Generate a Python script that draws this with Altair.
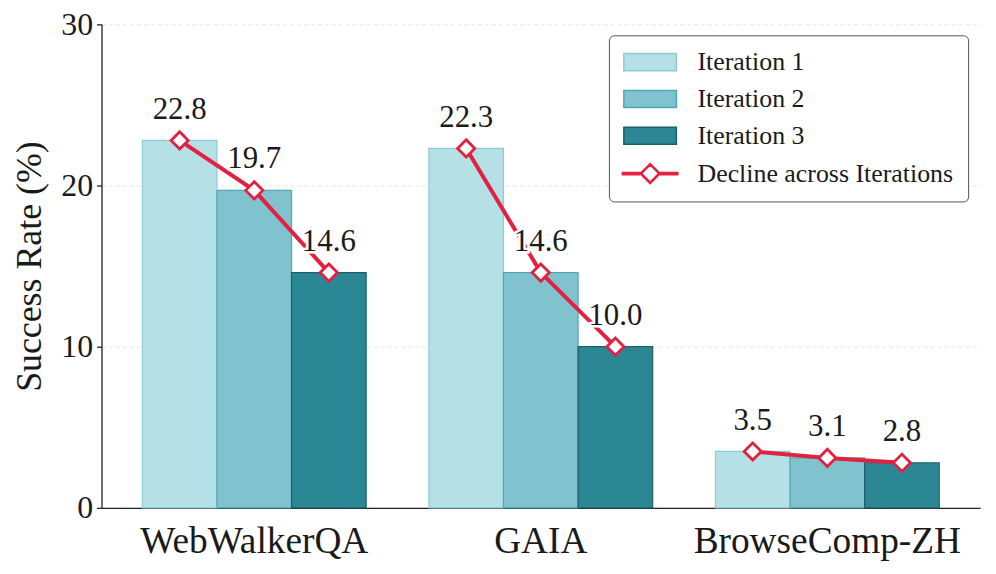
import altair as alt
import pandas as pd

groups = ["WebWalkerQA", "GAIA", "BrowseComp-ZH"]
iterations = ["Iteration 1", "Iteration 2", "Iteration 3"]
iter1 = [22.8, 22.3, 3.5]
iter2 = [19.7, 14.6, 3.1]
iter3 = [14.6, 10.0, 2.8]
line_name = "Decline across Iterations"
legend_entries = iterations + [line_name]
y_ticks = [0, 10, 20, 30]

fills = ["#b5e0e6", "#80c3ce", "#2c8795"]
strokes = ["#8ccbd5", "#4fa7b6", "#1d5f69"]
red = "#e3203f"
FONT = "Liberation Serif"
TXT = "#1a1a1a"

rows = []
for gi, g in enumerate(groups):
    for it, vals in zip(iterations, [iter1, iter2, iter3]):
        rows.append({"group": g, "iteration": it, "value": vals[gi]})
df = pd.DataFrame(rows)
legend_df = pd.DataFrame({"entry": legend_entries})

# legend glyphs (unit symbol paths): a bar swatch, and a thick line through a diamond
rect_path = "M-2.4,-0.78H2.4V0.78H-2.4Z"
line_path = ("M-2.6,-0.1H-0.9M-2.6,0H-0.9M-2.6,0.1H-0.9"
             "M0.9,-0.1H2.6M0.9,0H2.6M0.9,0.1H2.6"
             "M0,-0.92L0.92,0L0,0.92L-0.92,0Z"
             "M0,-0.84L0.84,0L0,0.84L-0.84,0Z"
             "M0,-0.78L0.78,0L0,0.78L-0.78,0Z")

bar_color_scale = alt.Scale(domain=iterations, range=fills)
bar_stroke_scale = alt.Scale(domain=iterations, range=strokes)
color_scale = alt.Scale(domain=legend_entries, range=fills + ["#ffffff"])
stroke_scale = alt.Scale(domain=legend_entries, range=strokes + [red])
shape_scale = alt.Scale(domain=legend_entries, range=[rect_path] * 3 + [line_path])

legend = alt.Legend(
    title=None, orient="none", legendX=510, legendY=11,
    symbolSize=484, symbolOffset=14.4, labelOffset=34.6, symbolStrokeWidth=1.5,
    labelFont=FONT, labelFontSize=26, labelColor=TXT, labelLimit=500,
    rowPadding=11, padding=14, strokeColor="#555555", fillColor="white",
    cornerRadius=5, symbolOpacity=1,
)

x_enc = alt.X("group:N", sort=groups,
              scale=alt.Scale(paddingInner=0.219, paddingOuter=0.1425),
              axis=alt.Axis(title=None, labelAngle=0, labelFont=FONT, labelFontSize=37.5,
                            labelColor=TXT, ticks=False, labelPadding=15, labelLimit=500,
                            domainColor="#222222", domainWidth=1.3, grid=False))
xo_enc = alt.XOffset("iteration:N", sort=iterations,
                     scale=alt.Scale(paddingInner=0, paddingOuter=0))
y_enc = alt.Y("value:Q", scale=alt.Scale(domain=[0, 30], nice=False),
              axis=alt.Axis(values=y_ticks, title="Success Rate (%)", titleFont=FONT,
                            titleFontSize=36, titleFontWeight="normal", titleColor=TXT,
                            titlePadding=12, labelFont=FONT, labelFontSize=32,
                            labelColor=TXT, labelPadding=4, tickSize=5, tickColor="#222222",
                            tickWidth=1.3, domainColor="#222222", domainWidth=1.3,
                            grid=True, gridColor="#dedede", gridDash=[4, 3], gridWidth=0.8))

base = alt.Chart(df)

bars = base.mark_bar(strokeWidth=1.2, opacity=1).encode(
    x=x_enc, xOffset=xo_enc, y=y_enc,
    color=alt.Color("iteration:N", scale=bar_color_scale, legend=None),
    stroke=alt.Stroke("iteration:N", scale=bar_stroke_scale, legend=None),
)

line = base.mark_line(strokeWidth=4, color=red).encode(
    x=x_enc, xOffset=xo_enc, y=y_enc,
    detail="group:N",
    order=alt.Order("iteration:N"),
)

points = base.mark_point(shape="diamond", filled=True, fill="white", stroke=red,
                         strokeWidth=2.8, size=300, opacity=1).encode(
    x=x_enc, xOffset=xo_enc, y=y_enc,
)

halo = base.mark_text(font=FONT, fontSize=31, dy=-22, baseline="alphabetic",
                      stroke="white", strokeWidth=5, fill="white").encode(
    x=x_enc, xOffset=xo_enc, y=y_enc,
    text=alt.Text("value:Q", format=".1f"),
)

labels = base.mark_text(font=FONT, fontSize=31, dy=-22, baseline="alphabetic",
                        color=TXT).encode(
    x=x_enc, xOffset=xo_enc, y=y_enc,
    text=alt.Text("value:Q", format=".1f"),
)

# legend carrier: draws no marks, only provides the combined legend from its scales
carrier = alt.Chart(legend_df).transform_filter("false").mark_point(
    filled=True, size=484, opacity=1
).encode(
    color=alt.Color("entry:N", scale=color_scale, legend=legend),
    stroke=alt.Stroke("entry:N", scale=stroke_scale, legend=legend),
    shape=alt.Shape("entry:N", scale=shape_scale, legend=legend),
)

chart = alt.layer(bars, line, points, halo, labels, carrier).resolve_scale(
    color="independent", stroke="independent", shape="independent",
).properties(
    width=883, height=486,
    autosize=alt.AutoSizeParams(type="none"),
    padding={"left": 94, "top": 15, "right": 8, "bottom": 60},
).configure_view(stroke=None)

chart.save("out.html", embed_options={"renderer": "svg", "actions": False})
